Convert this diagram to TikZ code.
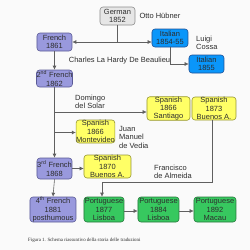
\documentclass[tikz,border=0pt]{standalone}
\usepackage{fontspec}
\setmainfont{Liberation Sans}
\newfontfamily\capfont{Liberation Serif}
\usetikzlibrary{arrows.meta}
\definecolor{bgc}{RGB}{250,250,250}
\definecolor{txtc}{RGB}{45,45,45}
\definecolor{linec}{RGB}{95,95,95}
\definecolor{gerf}{RGB}{230,230,230}
\definecolor{gerd}{RGB}{140,140,140}
\definecolor{frf}{RGB}{153,153,221}
\definecolor{frd}{RGB}{90,90,150}
\definecolor{itf}{RGB}{10,150,250}
\definecolor{itd}{RGB}{30,80,150}
\definecolor{spf}{RGB}{255,255,102}
\definecolor{spd}{RGB}{150,150,50}
\definecolor{ptf}{RGB}{55,200,95}
\definecolor{ptd}{RGB}{40,120,60}
\tikzset{
  box/.style={rectangle, rounded corners=3pt, inner sep=0pt, align=center,
    font=\fontsize{7.5}{8.3}\selectfont, text=txtc, line width=0.6pt},
  gerbox/.style={box, fill=gerf, draw=gerd},
  frbox/.style={box, fill=frf, draw=frd},
  itbox/.style={box, fill=itf, draw=itd},
  spbox/.style={box, fill=spf, draw=spd},
  ptbox/.style={box, fill=ptf, draw=ptd},
  lbl/.style={inner sep=0pt, align=left, font=\fontsize{7.5}{8.5}\selectfont, text=txtc},
  conn/.style={draw=linec, line width=0.6pt},
  arr/.style={conn, -{Latex[length=4pt,width=4pt]}}
}
\begin{document}
\begin{tikzpicture}[x=1pt,y=-1pt]
\fill[bgc] (0,0) rectangle (250,250);
\useasboundingbox (0,0) rectangle (250,250);

\node[gerbox, minimum width=35pt, minimum height=18pt] (german) at (117.5,16) {German\\1852};
\node[frbox, minimum width=35pt, minimum height=18pt] (french1) at (54.5,42) {French\\1861};
\node[itbox, minimum width=36pt, minimum height=18pt] (italian1) at (170,38) {Italian\\1854-55};
\node[itbox, minimum width=35pt, minimum height=18pt] (italian2) at (206.5,64) {Italian\\1855};
\node[frbox, minimum width=35pt, minimum height=17pt] (french2) at (54.5,78.5) {2\textsuperscript{nd} French\\1862};
\node[spbox, minimum width=43pt, minimum height=23pt] (santiago) at (168.5,108.5) {Spanish\\1866\\Santiago};
\node[spbox, minimum width=44pt, minimum height=23pt] (buenos73) at (214,108.5) {Spanish\\1873\\Buenos A.};
\node[spbox, minimum width=37pt, minimum height=23pt] (montevideo) at (95.5,131.5) {Spanish\\1866\\Montevideo};
\node[frbox, minimum width=35pt, minimum height=21pt] (french3) at (54.5,168.5) {3\textsuperscript{rd} French\\1868};
\node[spbox, minimum width=47pt, minimum height=23pt] (buenos70) at (107.5,166.5) {Spanish\\1870\\Buenos A.};
\node[frbox, minimum width=46pt, minimum height=25pt] (french4) at (53,209.5) {4\textsuperscript{th} French\\1881\\posthumous};
\node[ptbox, minimum width=40pt, minimum height=25pt] (port77) at (104,209.5) {Portuguese\\1877\\Lisboa};
\node[ptbox, minimum width=41pt, minimum height=25pt] (port84) at (158.5,209.5) {Portuguese\\1884\\Lisboa};
\node[ptbox, minimum width=42pt, minimum height=25pt] (port92) at (215,209.5) {Portuguese\\1892\\Macau};

\node[lbl] (otto) at (160,16) {Otto Hübner};
\node[lbl, anchor=west] (cossa) at (196,43) {Luigi\\Cossa};
\node[lbl] (hardy) at (119.5,61) {Charles La Hardy De Beaulieu};
\node[lbl, anchor=west] (solar) at (75,102) {Domingo\\del Solar};
\node[lbl, anchor=west] (vedia) at (119,137) {Juan\\Manuel\\de Vedia};
\node[lbl, anchor=west] (almeida) at (154,172) {Francisco\\de Almeida};
\node[inner sep=0pt, anchor=west, font=\capfont\fontsize{4.9}{6}\selectfont, text=txtc] (caption) at (28,240) {Figura 1. Schema riassuntivo della storia delle traduzioni};

\coordinate (j1) at (german.south |- french1.east);
\coordinate (j1b) at (117.5,42);
\draw[conn] (german.south) -- (j1b);
\draw[arr] (j1b) -- (french1.east |- j1b);
\draw[arr] (j1b) -- (italian1.west |- j1b);
\draw[arr] (italian1.south) |- (italian2.west);
\draw[arr] (french1.south) -- (french2.north);
\draw[arr] (french2.south) -- (french3.north);
\coordinate (j2) at (54.5,112);
\coordinate (j3) at (54.5,132.5);
\draw[arr] (j2) -- (santiago.west |- j2);
\draw[arr] (j3) -- (montevideo.west |- j3);
\draw[arr] (french3.east) -- (buenos70.west |- french3.east);
\coordinate (k1) at (212,182);
\coordinate (k2) at (102,182);
\draw[arr] (buenos73.south -| k1) -- (k1) -- (k2) -- (k2 |- port77.north);
\draw[arr] (french3.south) -- (french4.north);
\coordinate (pr) at (0,211);
\draw[arr] (port77.east |- pr) -- (port84.west |- pr);
\draw[arr] (port84.east |- pr) -- (port92.west |- pr);
\end{tikzpicture}
\end{document}
